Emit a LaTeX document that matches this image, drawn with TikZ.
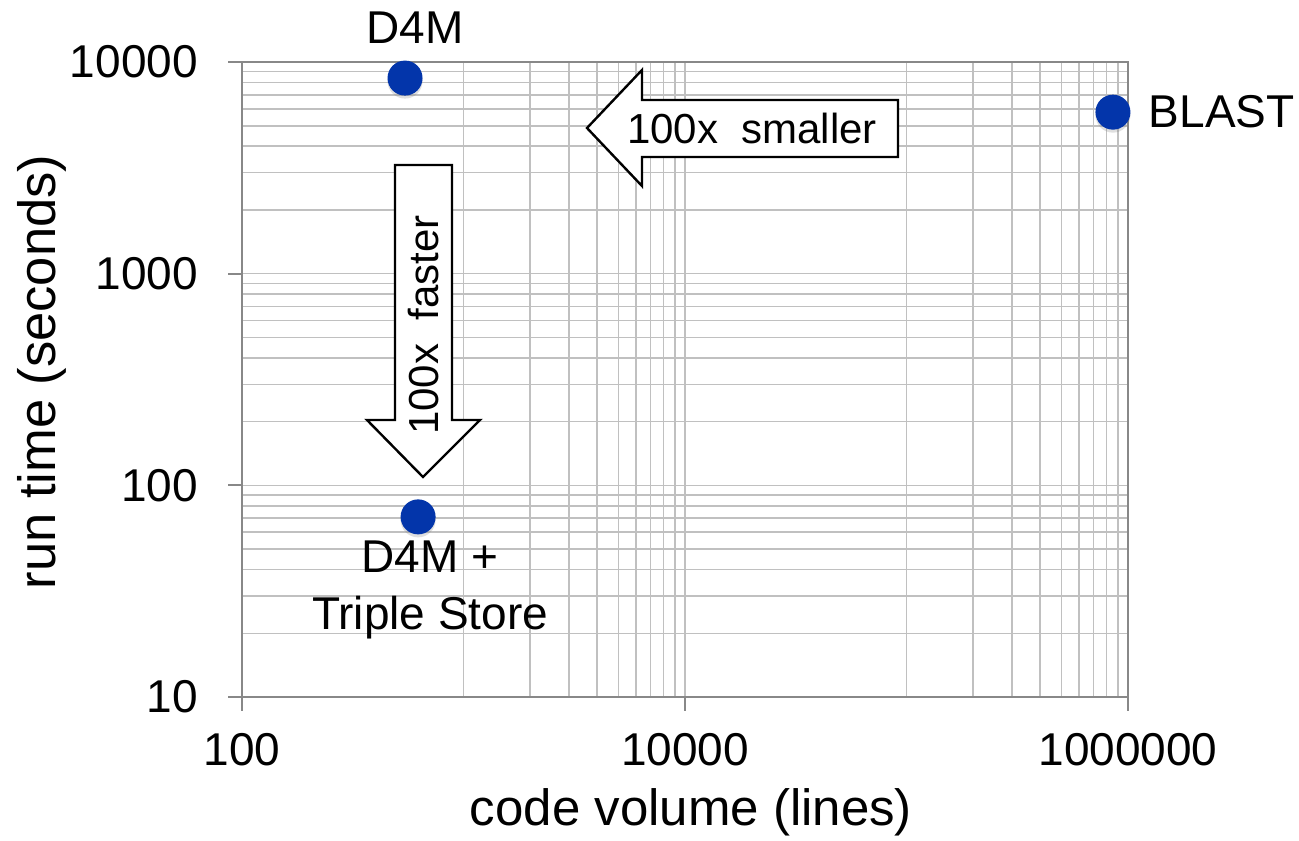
\documentclass[tikz,border=0pt]{standalone}
\usepackage{fontspec}
\setmainfont{Liberation Sans}
\usepackage{tikz}
\usetikzlibrary{positioning, shadows}

\definecolor{gridgray}{RGB}{192,192,192}
\definecolor{axisgray}{RGB}{136,136,136}
\definecolor{dotblue}{RGB}{3,53,170}

\tikzset{
  gridline/.style={gridgray, line width=1.6pt},
  axisline/.style={axisgray, line width=2.2pt},
  datadot/.style={circle, fill=dotblue, minimum size=35pt, inner sep=0pt,
                  drop shadow={opacity=0.25, shadow xshift=0pt, shadow yshift=-3pt}},
  blockarrow/.style={draw=black, fill=white, line width=2.4pt, line join=miter},
  ticklabel/.style={font=\fontsize{46}{57}\selectfont, inner sep=0pt},
  arrowlabel/.style={font=\fontsize{42}{50}\selectfont, inner sep=0pt},
  axistitle/.style={font=\fontsize{51}{60}\selectfont, inner sep=0pt},
}

\begin{document}
\begin{tikzpicture}[x=1pt, y=-1pt]
                    \useasboundingbox [fill=white] (0,0) rectangle (1299,841);

                    % plot area, in decades: x = log10(lines)-2, y = log10(seconds)-1
                    \begin{scope}[shift={(242,697)}, x=221.5pt, y=211.67pt]
                        \foreach \d in {1,3}
                            \foreach \m in {2,...,9}
                                \draw [gridline] ({\d+log10(\m)},0) -- ({\d+log10(\m)},3);
                        \foreach \d in {0,1,2}
                            \foreach \m in {2,...,9}
                                \draw [gridline] (0,{\d+log10(\m)}) -- (4,{\d+log10(\m)});
                        \foreach \d in {1,2,3}
                            \draw [gridline] (\d,0) -- (\d,3);
                        \foreach \d in {1,2}
                            \draw [gridline] (0,\d) -- (4,\d);

                        \draw [axisline] (0,0) rectangle (4,3);
                        \foreach \d in {0,...,3}
                            \draw [axisline] (0,\d) -- ++(-14pt,0);
                        \foreach \d in {0,2,4}
                            \draw [axisline] (\d,0) -- ++(0,-14pt);

                        \foreach \d/\t in {0/10, 1/100, 2/1000, 3/10000}
                            \node [ticklabel, anchor=east, xshift=-44pt] (ytick\t) at (0,\d) {\t};
                        \foreach \d/\t in {0/100, 2/10000, 4/1000000}
                            \node [ticklabel, yshift=-53pt] (xtick\t) at (\d,0) {\t};

                        \node [datadot] (d4m)    at (0.736,2.924) {};
                        \node [datadot] (triple) at (0.795,0.851) {};
                        \node [datadot] (blast)  at (3.932,2.763) {};
                    \end{scope}

                    \node [ticklabel, above=17pt of d4m, xshift=10pt] (d4mlabel) {D4M};
                    \node [ticklabel, below=6pt of triple, xshift=12pt, align=center] (triplelabel)
                          {D4M +\\Triple Store};
                    \node [ticklabel, right=18pt of blast] (blastlabel) {BLAST};

                    % block arrows
                    \draw [blockarrow] (587,128) -- (642,70) -- (642,100) -- (898,100) --
                                       (898,157) -- (642,157) -- (642,186) -- cycle;
                    \node [arrowlabel] (smaller) at (752,128) {100x\ \ smaller};

                    \draw [blockarrow] (395,165) -- (452,165) -- (452,420) -- (480,420) --
                                       (423,477) -- (367,420) -- (395,420) -- cycle;
                    \node [arrowlabel, rotate=90] (faster) at (424,325) {100x\ \ faster};

                    \node [axistitle] (xtitle) at (691,812) {code volume (lines)};
                    \node [axistitle, rotate=90, font=\fontsize{52.5}{60}\selectfont] (ytitle)
                          at (42,372) {run time (seconds)};
                \end{tikzpicture}
\end{document}
